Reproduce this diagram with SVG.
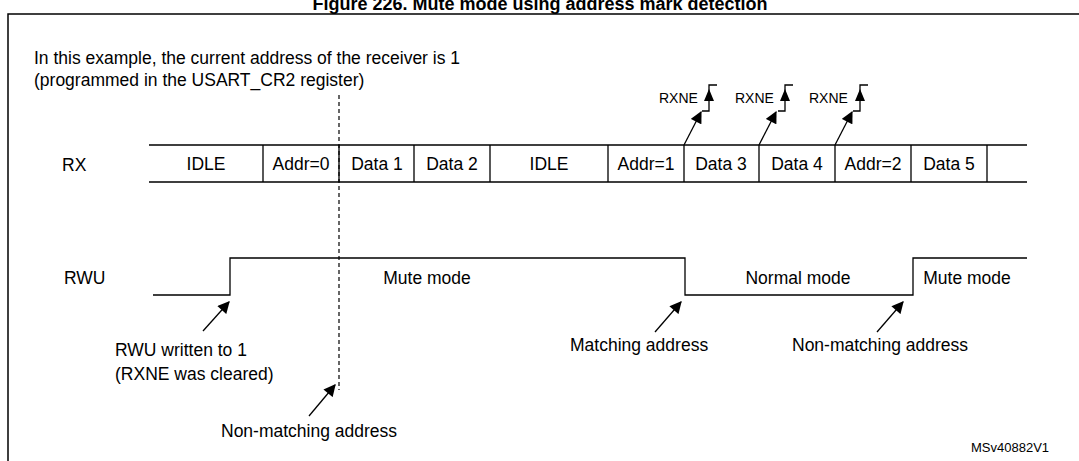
<svg xmlns="http://www.w3.org/2000/svg" width="1079" height="461" viewBox="0 0 1079 461">
<defs>
<marker id="ah" viewBox="0 0 10 10" refX="9" refY="5" markerWidth="13" markerHeight="12" markerUnits="userSpaceOnUse" orient="auto"><path d="M0,0 L10,5 L0,10 z" fill="#000"/></marker>
<style>
text{font-family:"Liberation Sans",Arial,sans-serif;font-size:17.5px;fill:#000}
.l{stroke:#000;stroke-width:1.3;fill:none}
.c{text-anchor:middle}
.s{font-size:14px}
.a{stroke:#000;stroke-width:1.3;fill:none;marker-end:url(#ah)}
</style>
</defs>
<rect width="1079" height="461" fill="#fff"/>
<text x="540" y="10" class="c" style="font-weight:bold;font-size:18px">Figure 226. Mute mode using address mark detection</text>
<rect x="8" y="14" width="1090" height="470" fill="none" stroke="#000" stroke-width="1.5"/>
<g id="note"><text x="34" y="64">In this example, the current address of the receiver is 1</text><text x="34" y="86">(programmed in the USART_CR2 register)</text></g>
<g id="rx">
<text x="62" y="171">RX</text>
<path class="l" d="M149,145H1027M149,182H1027M263,145V182M339,145V182M414,145V182M490,145V182M608,145V182M684,145V182M759,145V182M835,145V182M911,145V182M987,145V182"/>
<text x="206" y="170" class="c">IDLE</text>
<text x="301" y="170" class="c">Addr=0</text>
<text x="377" y="170" class="c">Data 1</text>
<text x="452" y="170" class="c">Data 2</text>
<text x="549" y="170" class="c">IDLE</text>
<text x="646" y="170" class="c">Addr=1</text>
<text x="721" y="170" class="c">Data 3</text>
<text x="797" y="170" class="c">Data 4</text>
<text x="873" y="170" class="c">Addr=2</text>
<text x="949" y="170" class="c">Data 5</text>
</g>
<g id="rwu">
<text x="64" y="284">RWU</text>
<path class="l" d="M153,295H230V258H685V295H913V258H1027"/>
<text x="427" y="284" class="c">Mute mode</text>
<text x="798" y="284" class="c">Normal mode</text>
<text x="967" y="284" class="c">Mute mode</text>
</g>
<g id="rxne1"><text x="659" y="103" class="s">RXNE</text><path class="l" d="M702,111H709V85H717"/><path d="M709,89L714,101H704z"/></g>
<g id="rxne2"><text x="735" y="103" class="s">RXNE</text><path class="l" d="M778,111H785V85H793"/><path d="M785,89L790,101H780z"/></g>
<g id="rxne3"><text x="809" y="103" class="s">RXNE</text><path class="l" d="M853,111H860V85H868"/><path d="M860,89L865,101H855z"/></g>
<g id="labels">
<text x="115" y="356">RWU written to 1</text>
<text x="115" y="380">(RXNE was cleared)</text>
<text x="221" y="437">Non-matching address</text>
<text x="570" y="351">Matching address</text>
<text x="792" y="351">Non-matching address</text>
<text x="971" y="452" style="font-size:13px">MSv40882V1</text>
</g>
<g id="connectors">
<path d="M339,95V390" stroke="#000" stroke-width="1.2" stroke-dasharray="4,3" fill="none"/>
<path class="a" d="M684,145L701,112"/>
<path class="a" d="M759,145L776,112"/>
<path class="a" d="M835,145L852,112"/>
<path class="a" d="M203,331L229,302"/>
<path class="a" d="M309,416L335,385"/>
<path class="a" d="M655,332L681,302"/>
<path class="a" d="M877,332L903,302"/>
</g>
</svg>
